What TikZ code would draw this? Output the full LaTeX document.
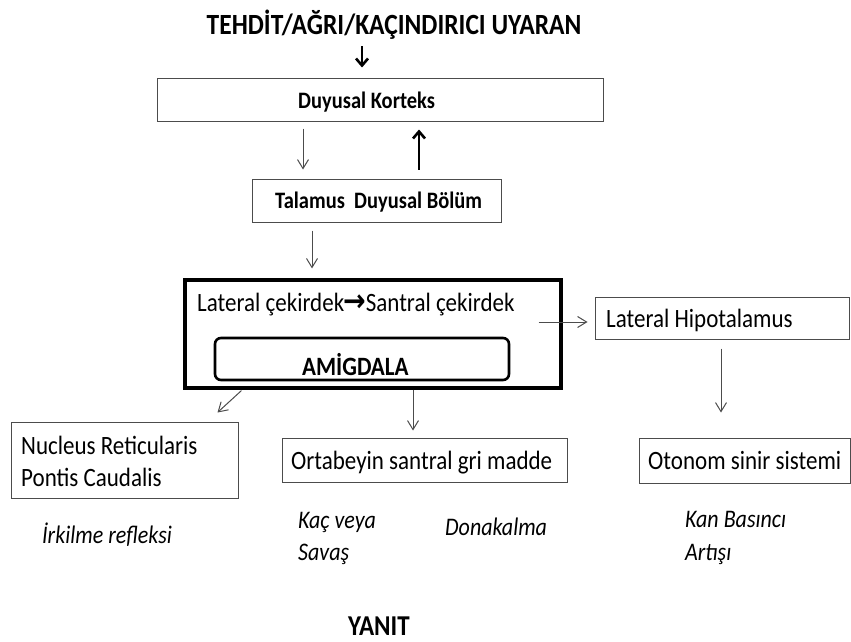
\documentclass[tikz,border=0pt]{standalone}
\usepackage{graphicx}
\usepackage{fontspec}
\setmainfont{Carlito}
\newfontfamily\dejavu{DejaVu Sans}
\usetikzlibrary{arrows.meta,calc}
\definecolor{linegray}{gray}{0.3}
\newcommand\vs[1]{\scalebox{1}[1.15]{#1}}
\begin{document}
\begin{tikzpicture}[x=1pt,y=-1pt,
  box/.style={draw=linegray, line width=1pt, inner sep=0pt, rectangle},
  bigbox/.style={draw=black, line width=3.2pt, inner sep=0pt, rectangle},
  roundbox/.style={draw=black, line width=2.6pt, inner sep=0pt, rectangle, rounded corners=6pt},
  txt/.style={inner sep=0pt, anchor=base west, font=\fontsize{23}{28}\selectfont},
  btxt/.style={inner sep=0pt, anchor=base west, font=\bfseries\fontsize{20.5}{24}\selectfont},
  itxt/.style={inner sep=0pt, anchor=base west, font=\itshape\fontsize{22}{26}\selectfont},
  tarr/.style={draw=linegray, line width=1pt, -{Straight Barb[length=9pt,width=11pt]}},
  karr/.style={draw=black, line width=2.6pt, -{Straight Barb[length=7pt,width=12pt]}}]
\useasboundingbox (0,0) rectangle (851,642);
\fill[white] (0,0) rectangle (851,642);

% title
\node[inner sep=0pt, anchor=base, font=\bfseries\fontsize{25.5}{30}\selectfont] (title) at (394,35) {\vs{TEHDİT/AĞRI/KAÇINDIRICI UYARAN}};

% boxes
\node[box, minimum width=446pt, minimum height=43pt] (kor) at (380,99.5) {};
\node[btxt] (kortxt) at (298,108) {\vs{Duyusal\ Korteks}};

\node[box, minimum width=249pt, minimum height=43pt] (tal) at (376.5,200.5) {};
\node[btxt] (taltxt) at (275,208) {\vs{Talamus\ \ Duyusal\ Bölüm}};

\node[bigbox, minimum width=376pt, minimum height=108pt] (amg) at (373,334) {};
\node[txt] (lat) at (197,311) {\vs{Lateral çekirdek{\dejavu\bfseries\fontsize{27}{30}\selectfont\kern-0.5pt→\kern-0.5pt}Santral çekirdek}};
\node[roundbox, minimum width=294pt, minimum height=42pt] (inner) at (362,359) {};
\node[inner sep=0pt, anchor=base west, font=\bfseries\fontsize{23}{28}\selectfont] (amgtxt) at (302,375) {\vs{AMİGDALA}};

\node[box, minimum width=254pt, minimum height=42pt] (lh) at (722,318) {};
\node[txt] (lhtxt) at (606,327) {\vs{Lateral Hipotalamus}};

\node[box, minimum width=227pt, minimum height=76pt] (nrp) at (124.5,460) {};
\node[txt] (nrp1) at (21,454) {\vs{Nucleus Reticularis}};
\node[txt] (nrp2) at (21,486) {\vs{Pontis Caudalis}};

\node[box, minimum width=285pt, minimum height=44pt] (orta) at (424.5,460) {};
\node[txt] (ortatxt) at (291,469) {\vs{Ortabeyin santral gri madde}};

\node[box, minimum width=211pt, minimum height=45pt] (oto) at (744.5,460.5) {};
\node[txt] (ototxt) at (648,469) {\vs{Otonom sinir sistemi}};

% italic responses
\node[itxt] (irk) at (42,543) {\vs{İrkilme refleksi}};
\node[itxt] (kac1) at (298,528) {\vs{Kaç veya}};
\node[itxt] (kac2) at (298,560) {\vs{Savaş}};
\node[itxt] (don) at (445,535) {\vs{Donakalma}};
\node[itxt] (kan1) at (685,527) {\vs{Kan Basıncı}};
\node[itxt] (kan2) at (685,560) {\vs{Artışı}};

\node[inner sep=0pt, anchor=base west, font=\bfseries\fontsize{25}{28}\selectfont] (yanit) at (348,635) {\vs{YANIT}};

% connectors
\draw[karr, shorten <=6pt, shorten >=10pt] (title.south -| 362,0) -- (kor.north -| 362,0);
\draw[tarr, shorten <=7pt, shorten >=9pt] (kor.south -| 303,0) -- (tal.north -| 303,0);
\draw[karr, shorten <=9pt, shorten >=8pt] (tal.north -| 419,0) -- (kor.south -| 419,0);
\draw[tarr, shorten <=8pt, shorten >=10pt] (tal.south -| 312,0) -- (amg.north -| 312,0);
\draw[tarr] ($(amg.east)+(-24,-12)$) -- ($(lh.west)+(-7,4)$);
\draw[tarr, shorten <=9pt, shorten >=25pt] (lh.south -| 721,0) -- (oto.north -| 721,0);
\draw[tarr] ($(amg.south west)+(58,1)$) -- ($(nrp.north east)+(-21,-9)$);
\draw[tarr, shorten >=7pt] (amg.south -| 413,0) -- (orta.north -| 413,0);
\end{tikzpicture}
\end{document}
